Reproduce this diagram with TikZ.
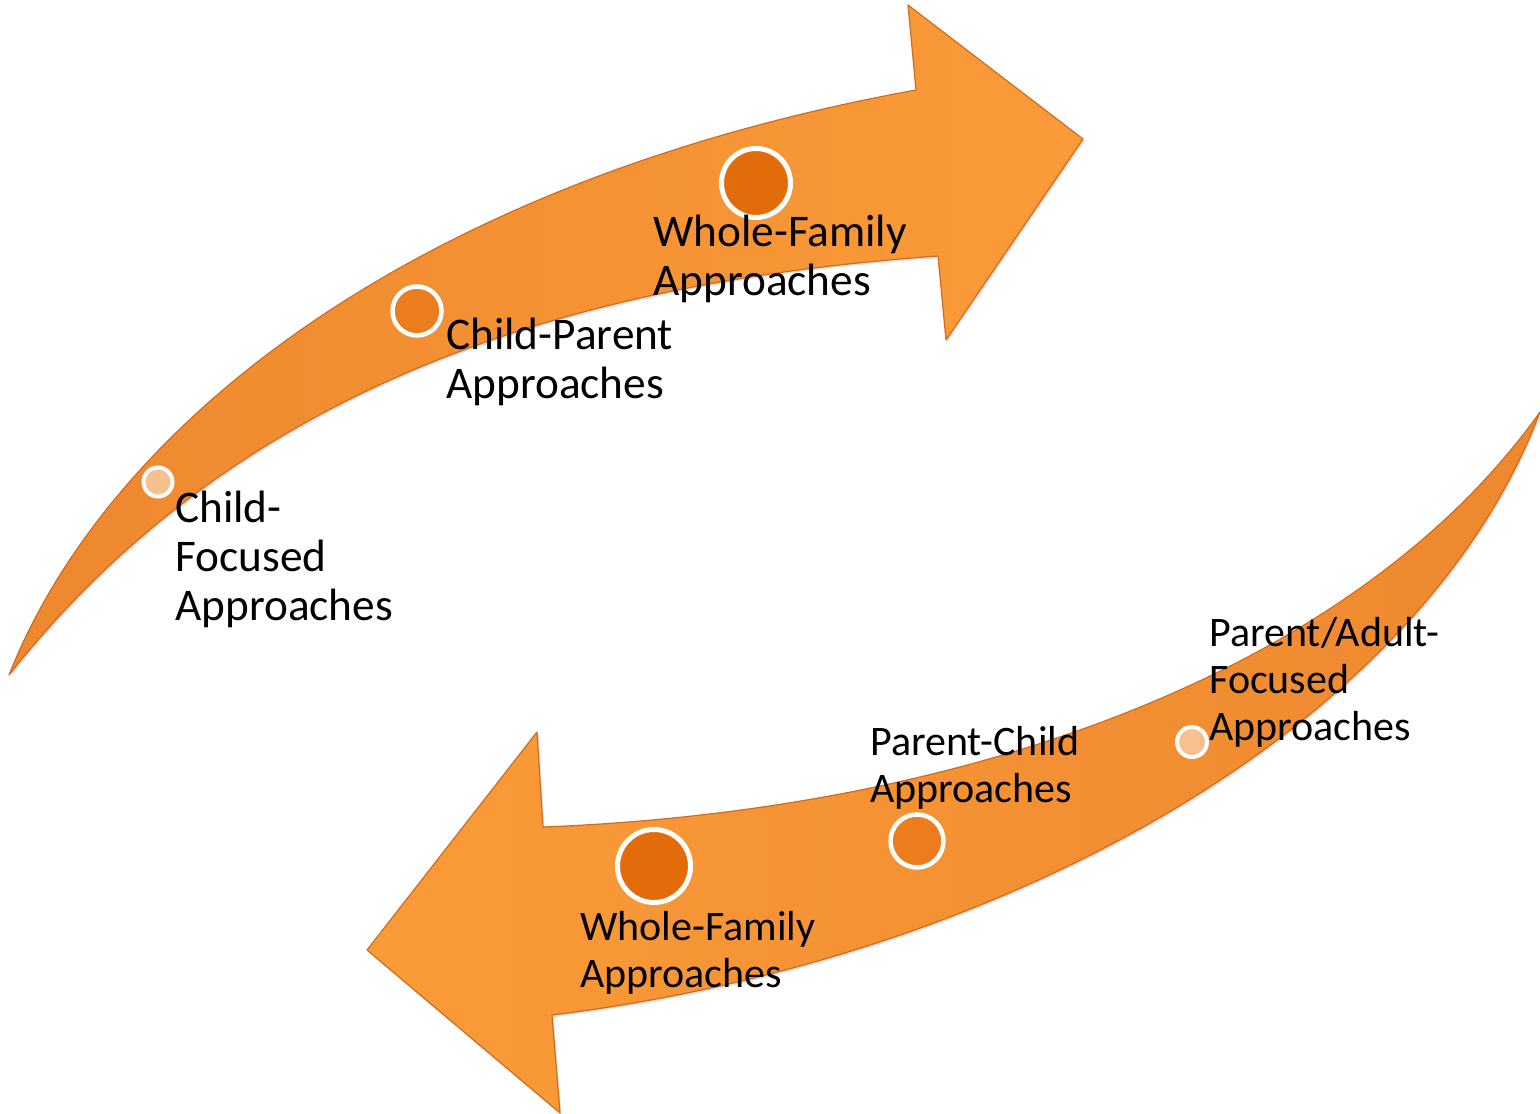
\documentclass[tikz,border=0pt]{standalone}
\usepackage{fontspec}
\setmainfont{Carlito}
\usetikzlibrary{shadows}
\definecolor{bandlight}{HTML}{FA9B38}
\definecolor{banddark}{HTML}{EE882F}
\definecolor{bandrim}{HTML}{D06C20}
\definecolor{dotbig}{HTML}{E36C0A}
\definecolor{dotmid}{HTML}{EC7D1F}
\definecolor{dotsmall}{HTML}{F9C08F}

\begin{document}
\begin{tikzpicture}[x=1pt,y=-1pt,semithick]
  \tikzstyle{band}=[draw=bandrim,line width=1.2pt,line join=round,
                    drop shadow={opacity=0.25,shadow xshift=1.5pt,shadow yshift=-2pt}]
  \tikzstyle{milestone}=[circle,draw=white,inner sep=0pt]
  \tikzstyle{approach}=[anchor=base west,align=left,inner sep=0pt,text=black]
  \tikzstyle{upper text}=[approach,font=\fontsize{45.3}{49}\selectfont]
  \tikzstyle{lower text}=[approach,font=\fontsize{42}{47}\selectfont]

  \useasboundingbox (0,0) rectangle (1540,1114);

  % forward arrow, bottom left to top right
  \path[band,left color=banddark,right color=bandlight]
    (9,675) .. controls (110,420) and (420,180) .. (916,90)
    -- (908,5) -- (1083,139) -- (946,340) -- (938,256)
    .. controls (600,280) and (250,370) .. (9,675) -- cycle;

  % backward arrow, right to bottom left
  \path[band,left color=bandlight,right color=banddark]
    (1540,412) .. controls (1360,665) and (980,810) .. (543,827)
    -- (537,732) -- (367,950) -- (560,1113) -- (552,1015)
    .. controls (1000,960) and (1420,730) .. (1540,412) -- cycle;

  \node[milestone,fill=dotsmall,line width=4pt,minimum size=29pt] (cfdot) at (158,482) {};
  \node[milestone,fill=dotmid,line width=4.5pt,minimum size=49pt] (cpdot) at (417,311) {};
  \node[milestone,fill=dotbig,line width=5pt,minimum size=69pt] (wfdot) at (756,183) {};
  \node[milestone,fill=dotsmall,line width=4pt,minimum size=30pt] (padot) at (1192,742) {};
  \node[milestone,fill=dotmid,line width=4.5pt,minimum size=53pt] (pcdot) at (917,841) {};
  \node[milestone,fill=dotbig,line width=5pt,minimum size=73pt] (wbdot) at (654,866) {};

  % base anchor sits on the last line
  \node[upper text] (cf) at (175,620) {Child-\\Focused\\Approaches};
  \node[upper text] (cp) at (446,398) {Child-Parent\\Approaches};
  \node[upper text] (wf) at (653,295) {Whole-Family\\Approaches};
  \node[lower text] (pa) at (1209,740) {Parent/Adult-\\Focused\\Approaches};
  \node[lower text] (pc) at (870,802) {Parent-Child\\Approaches};
  \node[lower text] (wb) at (580,987) {Whole-Family\\Approaches};
\end{tikzpicture}
\end{document}
